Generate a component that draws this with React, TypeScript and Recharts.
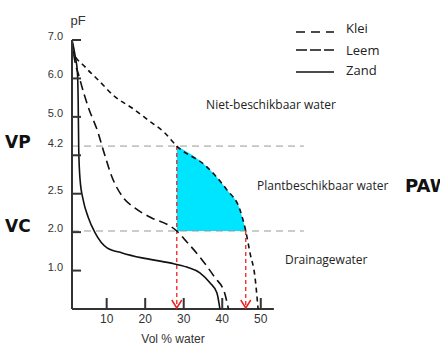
import React from 'react';
import { ComposedChart, Line, Area, XAxis, YAxis, ReferenceLine, ReferenceDot } from 'recharts';

// y is the position on the (non-linear) pF axis: 1..7 map to the tick labels below
const yTicks = [1, 2, 3, 4, 5, 6, 7];
const yLabels = ['1.0', '2.0', '2.5', '4.2', '5.0', '6.0', '7.0'];
const xTicks = [10, 20, 30, 40, 50];

const klei = [
  { x: 1.0, y: 7.0 }, { x: 1.3, y: 6.69 }, { x: 4.4, y: 6.3 }, { x: 7.8, y: 5.96 },
  { x: 12.2, y: 5.52 }, { x: 16.6, y: 5.23 }, { x: 20.7, y: 4.92 }, { x: 25.1, y: 4.58 },
  { x: 28.2, y: 4.24 }, { x: 36.0, y: 3.7 }, { x: 41.2, y: 3.1 }, { x: 44.6, y: 2.58 },
  { x: 46.1, y: 2.03 }, { x: 47.2, y: 1.46 }, { x: 48.5, y: 0.83 }, { x: 49.3, y: 0 },
];

const leem = [
  { x: 1.0, y: 7.0 }, { x: 1.3, y: 6.74 }, { x: 3.1, y: 5.96 }, { x: 5.2, y: 5.26 },
  { x: 7.8, y: 4.58 }, { x: 9.1, y: 4.14 }, { x: 11.4, y: 3.43 }, { x: 14.2, y: 2.91 },
  { x: 17.3, y: 2.63 }, { x: 21.7, y: 2.37 }, { x: 25.9, y: 2.19 }, { x: 28.2, y: 2.03 },
  { x: 30.5, y: 1.78 }, { x: 34.2, y: 1.35 }, { x: 38.0, y: 0.83 }, { x: 40.6, y: 0.42 }, { x: 41.6, y: 0 },
];

const zand = [
  { x: 1.0, y: 7.0 }, { x: 1.8, y: 6.6 }, { x: 2.4, y: 6.17 }, { x: 2.6, y: 5.44 },
  { x: 2.75, y: 4.14 }, { x: 3.1, y: 3.36 }, { x: 3.9, y: 2.84 }, { x: 5.2, y: 2.39 },
  { x: 7.0, y: 1.98 }, { x: 10.1, y: 1.59 }, { x: 14.0, y: 1.46 }, { x: 19.2, y: 1.33 },
  { x: 26.4, y: 1.2 }, { x: 30.8, y: 1.09 }, { x: 34.2, y: 0.94 }, { x: 36.8, y: 0.68 },
  { x: 38.6, y: 0.42 }, { x: 39.4, y: 0 },
];

// plant available water: under the klei curve between VP and VC
const paw = klei.filter((d) => d.x >= 28.2 && d.x <= 46.1);

const vp = 4.24;
const vc = 2.03;
const vpX = 28.2;
const vcX = 46.1;

const YTick = (props: any) => {
  const { x, y, index } = props;
  const dy = index === 3 ? -12 : -4;
  return (
    <g>
      <line x1={x} x2={x + 9} y1={y} y2={y} stroke="#333" strokeWidth={2} />
      <text x={x - 9} y={y + dy} textAnchor="end" dominantBaseline="central" fontSize={11} fill="#333" fontFamily="'Liberation Sans', Arial">
        {yLabels[index]}
      </text>
    </g>
  );
};

const XTick = (props: any) => {
  const { x, y, payload } = props;
  return (
    <g>
      <line x1={x} x2={x} y1={y} y2={y - 11} stroke="#333" strokeWidth={2} />
      <text x={x} y={y + 10} textAnchor="middle" dominantBaseline="central" fontSize={12} fill="#333" fontFamily="'Liberation Sans', Arial">
        {payload.value}
      </text>
    </g>
  );
};

const Arrow = (props: any) => {
  const { cx, cy } = props;
  return <polyline points={`${cx - 5},${cy - 9} ${cx},${cy - 1} ${cx + 5},${cy - 9}`} fill="none" stroke="#ee2020" strokeWidth={1.5} />;
};

const legendItems = [
  { name: 'Klei', dash: '9 6', line: 32, text: 28 },
  { name: 'Leem', dash: '11 3', line: 50, text: 50 },
  { name: 'Zand', dash: undefined, line: 72, text: 70 },
];

const labelFont = "'Open Sans', sans-serif";
const boldFont = "'DejaVu Sans', sans-serif";

export default function App() {
  return (
    <div style={{ position: 'absolute', left: 0, top: 0, width: 440, height: 352, background: '#fff', fontFamily: "'Liberation Sans', Arial" }}>
      <ComposedChart width={440} height={352} margin={{ top: 40, right: 133, bottom: 13, left: 0 }}>
        <XAxis type="number" dataKey="x" domain={[1, 62]} ticks={xTicks} axisLine={false} tickLine={false} tickSize={0} tickMargin={0} height={30} tick={<XTick />} allowDataOverflow />
        <YAxis type="number" dataKey="y" domain={[0, 7]} ticks={yTicks} axisLine={{ stroke: '#333', strokeWidth: 2 }} tickLine={false} tickSize={0} tickMargin={0} width={72} tick={<YTick />} allowDataOverflow />
        <Area data={paw} dataKey="y" type="monotone" baseValue={vc} fill="#00e5ff" fillOpacity={1} stroke="none" isAnimationActive={false} />
        <ReferenceLine segment={[{ x: 1, y: vp }, { x: 61.2, y: vp }]} stroke="#999" strokeDasharray="7 5" />
        <ReferenceLine segment={[{ x: 1, y: vc }, { x: 61.2, y: vc }]} stroke="#999" strokeDasharray="7 5" />
        <ReferenceLine segment={[{ x: 1, y: 0 }, { x: 53.4, y: 0 }]} stroke="#333" strokeWidth={2} />
        <ReferenceLine segment={[{ x: vpX, y: vp }, { x: vpX, y: 0.03 }]} stroke="#ee2020" strokeDasharray="4 3" strokeWidth={1.3} />
        <ReferenceLine segment={[{ x: vcX, y: vc }, { x: vcX, y: 0.03 }]} stroke="#ee2020" strokeDasharray="4 3" strokeWidth={1.3} />
        <ReferenceDot x={vpX} y={0} r={0} shape={<Arrow />} />
        <ReferenceDot x={vcX} y={0} r={0} shape={<Arrow />} />
        <Line data={klei} dataKey="y" name="Klei" type="monotone" stroke="#111" strokeWidth={1.6} strokeDasharray="5 4" dot={false} isAnimationActive={false} />
        <Line data={leem} dataKey="y" name="Leem" type="monotone" stroke="#111" strokeWidth={1.6} strokeDasharray="9 5" dot={false} isAnimationActive={false} />
        <Line data={zand} dataKey="y" name="Zand" type="monotone" stroke="#111" strokeWidth={1.6} dot={false} isAnimationActive={false} />
      </ComposedChart>
      <svg width={440} height={352} style={{ position: 'absolute', left: 0, top: 0, pointerEvents: 'none' }}>
        {legendItems.map((it) => (
          <g key={it.name}>
            <line x1={296} x2={334} y1={it.line} y2={it.line} stroke="#111" strokeWidth={1.5} strokeDasharray={it.dash} />
            <text x={346} y={it.text} dominantBaseline="central" fontSize={13} fill="#222" fontFamily={labelFont}>
              {it.name}
            </text>
          </g>
        ))}
        <text x={78} y={20} textAnchor="middle" dominantBaseline="central" fontSize={13} fill="#333">pF</text>
        <text x={173} y={339} textAnchor="middle" dominantBaseline="central" fontSize={12} fill="#333">Vol % water</text>
        <text x={5} y={142} dominantBaseline="central" fontSize={17} fontWeight="bold" fill="#111" fontFamily={boldFont}>VP</text>
        <text x={5} y={226} dominantBaseline="central" fontSize={17} fontWeight="bold" fill="#111" fontFamily={boldFont}>VC</text>
        <text x={405} y={185} dominantBaseline="central" fontSize={18} fontWeight="bold" fill="#111" fontFamily={boldFont}>PAW</text>
        <text x={271} y={104} textAnchor="middle" dominantBaseline="central" fontSize={12} fill="#222" fontFamily={labelFont}>Niet-beschikbaar water</text>
        <text x={257} y={185} dominantBaseline="central" fontSize={12} fill="#222" fontFamily={labelFont}>Plantbeschikbaar water</text>
        <text x={285} y={259} dominantBaseline="central" fontSize={12} fill="#222" fontFamily={labelFont}>Drainagewater</text>
      </svg>
    </div>
  );
}
